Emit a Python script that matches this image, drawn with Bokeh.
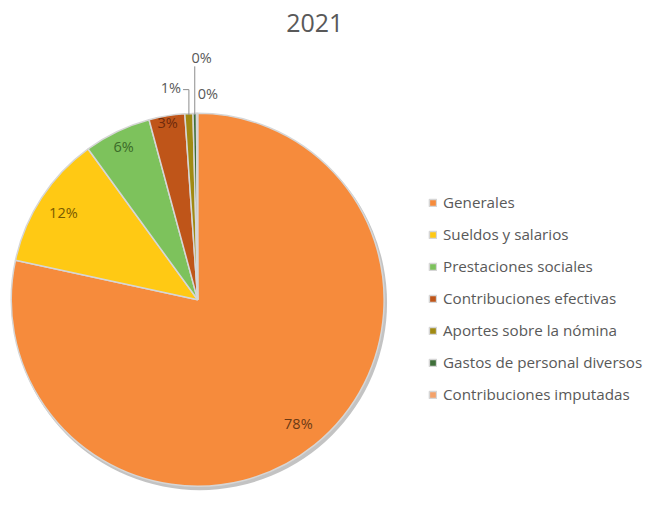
import math
from bokeh.plotting import figure
from bokeh.models import ColumnDataSource, Range1d, Legend, LegendItem
from bokeh.core.properties import value
from bokeh.embed import file_html
from bokeh.resources import INLINE

# ---- data ----
title_text = "2021"
categories = ["Generales", "Sueldos y salarios", "Prestaciones sociales",
              "Contribuciones efectivas", "Aportes sobre la nómina",
              "Gastos de personal diversos", "Contribuciones imputadas"]
shares = [78.4, 11.6, 5.8, 3.1, 0.7, 0.3, 0.1]
pct_labels = ["78%", "12%", "6%", "3%", "1%", "0%", "0%"]

# ---- styles ----
colors = ["#F68B3C", "#FFC914", "#7DC25C", "#BF5519", "#A08A12", "#3F6F3A", "#F4A26A"]
inner_text_colors = ["#6B3A14", "#7A5A00", "#3B6A28", "#6E2A0C"]
FONT = "Open Sans"
W, H = 655, 494
VW, VH = 671, 510   # view coordinate space

p = figure(width=W, height=H, output_backend="svg", toolbar_location=None,
           x_range=Range1d(0, VW), y_range=Range1d(0, VH),
           min_border=0)
p.axis.visible = False
p.grid.visible = False
p.outline_line_color = None
p.background_fill_color = "white"

cx, cy, r = 202, VH - 309, 191

total = sum(shares)
starts, ends, mids = [], [], []
cum = 0.0
for s in shares:
    a0 = cum / total
    cum += s
    a1 = cum / total
    starts.append(math.pi / 2 - a0 * 2 * math.pi)
    ends.append(math.pi / 2 - a1 * 2 * math.pi)
    mids.append((a0 + a1) / 2 * 2 * math.pi)  # clockwise from top

src = ColumnDataSource(dict(category=categories, share=shares, start=starts,
                            end=ends, color=colors))

# shadow
p.circle(x=[cx + 2], y=[cy - 3], radius=r + 1, fill_color="#7a7a7a",
         fill_alpha=0.45, line_color=None)

wr = p.wedge(x=cx, y=cy, radius=r, start_angle="start", end_angle="end",
             direction="clock", fill_color="color", line_color="#D6D6D6",
             line_width=1.5, source=src)

def pol(theta, rr):
    return cx + rr * math.sin(theta), cy + rr * math.cos(theta)

LBL = "14.5px"
# inner labels
inner_r = [0.86, 0.86, 0.92, 0.97]
for i in range(4):
    x, y = pol(mids[i], r * inner_r[i])
    p.text(x=[x], y=[y], text=[pct_labels[i]], text_align="center",
           text_baseline="middle", text_font=value(FONT), text_font_size=LBL,
           text_color=inner_text_colors[i])

grey = "#595959"
# Aportes 1% with leader
ex, ey = pol(mids[4], r)
ly = VH - 92
p.line(x=[ex, ex, ex - 6], y=[ey, ly, ly], line_color="#8C8C8C", line_width=1)
p.text(x=[ex - 8], y=[ly + 2], text=[pct_labels[4]], text_align="right",
       text_baseline="middle", text_font=value(FONT), text_font_size=LBL,
       text_color=grey)
# Gastos 0% with vertical leader
ex, ey = pol(mids[5], r)
p.line(x=[ex, ex], y=[ey, VH - 68], line_color="#8C8C8C", line_width=1)
p.text(x=[ex + 7], y=[VH - 59], text=[pct_labels[5]], text_align="center",
       text_baseline="middle", text_font=value(FONT), text_font_size=LBL,
       text_color=grey)
# Imputadas 0%
ex, ey = pol(mids[6], r)
p.text(x=[ex + 11], y=[ey + 22], text=[pct_labels[6]], text_align="center",
       text_baseline="middle", text_font=value(FONT), text_font_size=LBL,
       text_color=grey)

# title
p.text(x=[322], y=[VH - 23], text=[title_text], text_align="center",
       text_baseline="middle", text_font=value(FONT), text_font_size="25px",
       text_color=grey)

# legend
items = [LegendItem(label=categories[i], renderers=[wr], index=i)
         for i in range(len(categories))]
legend = Legend(items=items, location=(428, 90), orientation="vertical",
                padding=0, margin=0, spacing=12, label_height=20,
                glyph_width=9, glyph_height=9, label_standoff=6,
                border_line_color=None, background_fill_alpha=0,
                label_text_font=FONT, label_text_font_size="15.2px",
                label_text_color=grey)
p.add_layout(legend)

open("out.html", "w").write(file_html(p, INLINE))
